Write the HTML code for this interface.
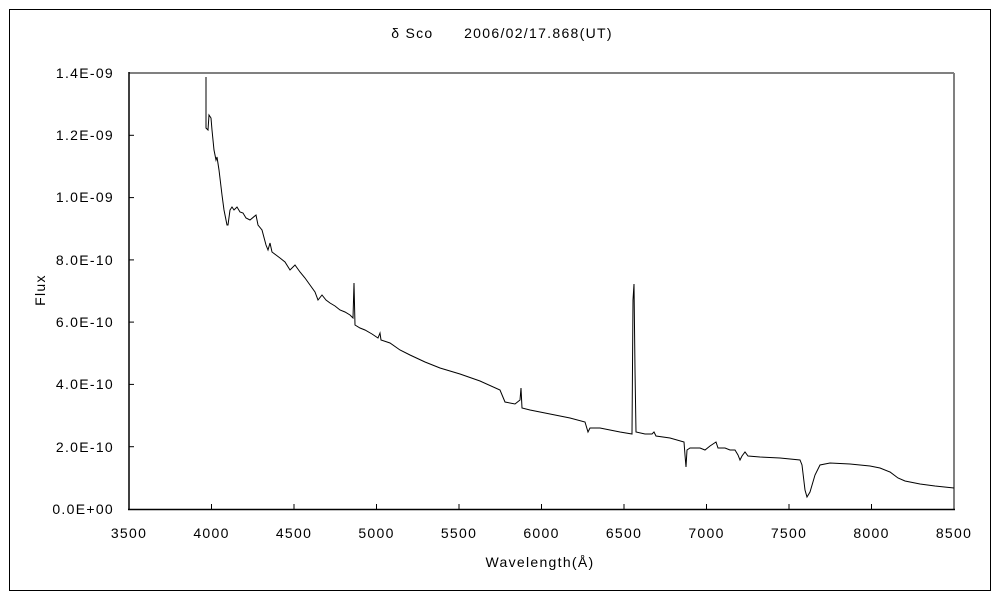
<!DOCTYPE html>
<html><head><meta charset="utf-8"><style>
body{margin:0;background:#fff}
svg text{font-family:"Liberation Sans","Noto Sans CJK JP",sans-serif;font-size:14px;fill:#000;letter-spacing:1.3px}
</style></head><body>
<svg width="1000" height="600" xmlns="http://www.w3.org/2000/svg">
<rect x="9.5" y="9.5" width="981" height="581" fill="#fff" stroke="#000" stroke-width="1"/>
<text x="502" y="38" text-anchor="middle">δ Sco　　2006/02/17.868(UT)</text>
<line x1="129" y1="73" x2="954" y2="73" stroke="#808080" stroke-width="2"/>
<line x1="954" y1="73" x2="954" y2="509" stroke="#808080" stroke-width="2"/>
<line x1="129" y1="72" x2="129" y2="510" stroke="#000" stroke-width="1.5"/>
<line x1="128" y1="509.5" x2="955" y2="509.5" stroke="#000" stroke-width="1.5"/>
<g stroke="#000" stroke-width="1">
<line x1="129" y1="135.3" x2="134" y2="135.3"/><line x1="129" y1="197.6" x2="134" y2="197.6"/>
<line x1="129" y1="259.9" x2="134" y2="259.9"/><line x1="129" y1="322.1" x2="134" y2="322.1"/>
<line x1="129" y1="384.4" x2="134" y2="384.4"/><line x1="129" y1="446.7" x2="134" y2="446.7"/>
<line x1="211.5" y1="509" x2="211.5" y2="504"/><line x1="294" y1="509" x2="294" y2="504"/>
<line x1="376.5" y1="509" x2="376.5" y2="504"/><line x1="459" y1="509" x2="459" y2="504"/>
<line x1="541.5" y1="509" x2="541.5" y2="504"/><line x1="624" y1="509" x2="624" y2="504"/>
<line x1="706.5" y1="509" x2="706.5" y2="504"/><line x1="789" y1="509" x2="789" y2="504"/>
<line x1="871.5" y1="509" x2="871.5" y2="504"/>
</g>
<g text-anchor="end">
<text x="114" y="78">1.4E-09</text><text x="114" y="140">1.2E-09</text>
<text x="114" y="202">1.0E-09</text><text x="114" y="265">8.0E-10</text>
<text x="114" y="327">6.0E-10</text><text x="114" y="389">4.0E-10</text>
<text x="114" y="452">2.0E-10</text><text x="114" y="514">0.0E+00</text>
</g>
<g text-anchor="middle">
<text x="129" y="538">3500</text><text x="211.5" y="538">4000</text><text x="294" y="538">4500</text>
<text x="376.5" y="538">5000</text><text x="459" y="538">5500</text><text x="541.5" y="538">6000</text>
<text x="624" y="538">6500</text><text x="706.5" y="538">7000</text><text x="789" y="538">7500</text>
<text x="871.5" y="538">8000</text><text x="954" y="538">8500</text>
<text x="540" y="567">Wavelength(Å)</text>
<text transform="translate(45,290) rotate(-90)">Flux</text>
</g>
<polyline fill="none" stroke="#000" stroke-width="1" points="206,77 206,128 208,130 209,115 211,118 212,130 214,150 216,160 217,157 219,170 222,195 224,210 227,225 228,225 230,210 232,207 234,210 237,207 240,212 243,213 246,218 250,220 256,215 258,225 262,230 266,245 268,250 270,243 272,252 276,255 280,258 285,262 290,270 295,265 300,272 305,278 310,285 315,292 318,300 322,295 326,300 330,303 335,306 340,310 345,312 350,315 353,318 354,283 355,325 360,328 365,330 372,334 378,338 380,333 381,340 390,343 400,350 410,355 425,362 440,368 460,374 480,381 500,390 505,402 515,404 520,400 521,388 522,408 530,410 550,414 570,418 585,422 588,432 590,428 600,428 620,432 632,434 633,300 634,284 635,370 636,432 645,434 652,434 654,432 656,436 670,438 684,442 685,455 686,467 687,450 690,448 700,448 705,450 710,446 716,442 718,448 725,448 730,450 735,450 738,455 740,460 742,456 745,452 748,456 760,457 780,458 800,460 802,465 805,490 807,497 810,492 815,475 820,465 830,463 850,464 870,466 880,468 890,472 898,478 905,481 920,484 935,486 954,488"/>
</svg>
</body></html>
